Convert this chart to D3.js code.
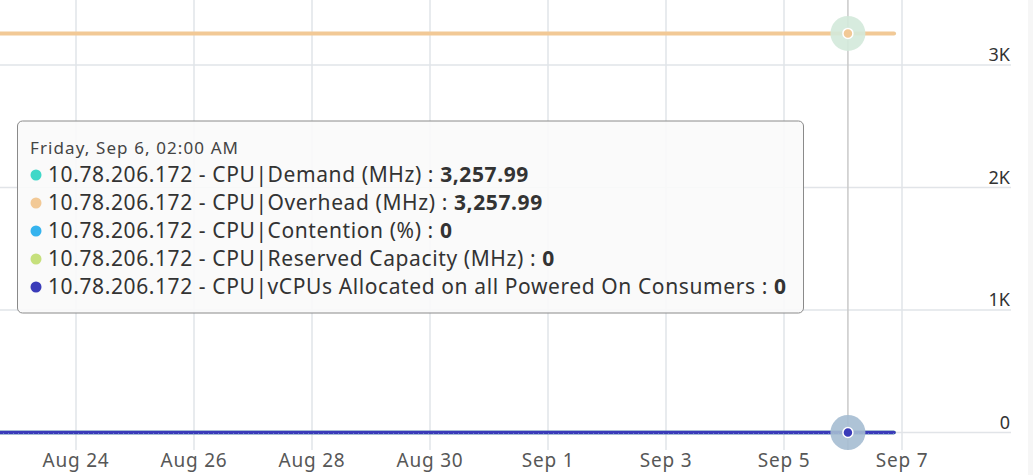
<!DOCTYPE html>
<html>
<head>
<meta charset="utf-8">
<script src="https://cdn.jsdelivr.net/npm/d3@7"></script>
<style>
  body { margin: 0; background: #fff; }
  svg { display: block; font-family: "Noto Sans", sans-serif; }
</style>
</head>
<body>
<div id="chart"></div>
<script>
// sample times (hourly data collapsed to the points that matter, the values are flat)
const times = [
  "2024-08-22T00:00", "2024-08-23T00:00", "2024-08-24T00:00", "2024-08-25T00:00",
  "2024-08-26T00:00", "2024-08-27T00:00", "2024-08-28T00:00", "2024-08-29T00:00",
  "2024-08-30T00:00", "2024-08-31T00:00", "2024-09-01T00:00", "2024-09-02T00:00",
  "2024-09-03T00:00", "2024-09-04T00:00", "2024-09-05T00:00", "2024-09-06T02:00",
  "2024-09-06T20:45"
];
const demand      = [3257.99, 3257.99, 3257.99, 3257.99, 3257.99, 3257.99, 3257.99, 3257.99, 3257.99, 3257.99, 3257.99, 3257.99, 3257.99, 3257.99, 3257.99, 3257.99, 3257.99];
const overhead    = [3257.99, 3257.99, 3257.99, 3257.99, 3257.99, 3257.99, 3257.99, 3257.99, 3257.99, 3257.99, 3257.99, 3257.99, 3257.99, 3257.99, 3257.99, 3257.99, 3257.99];
const contention  = [0, 0, 0, 0, 0, 0, 0, 0, 0, 0, 0, 0, 0, 0, 0, 0, 0];
const reserved    = [0, 0, 0, 0, 0, 0, 0, 0, 0, 0, 0, 0, 0, 0, 0, 0, 0];
const vcpus       = [0, 0, 0, 0, 0, 0, 0, 0, 0, 0, 0, 0, 0, 0, 0, 0, 0];

const seriesNames = [
  "10.78.206.172 - CPU|Demand (MHz)",
  "10.78.206.172 - CPU|Overhead (MHz)",
  "10.78.206.172 - CPU|Contention (%)",
  "10.78.206.172 - CPU|Reserved Capacity (MHz)",
  "10.78.206.172 - CPU|vCPUs Allocated on all Powered On Consumers"
];
const seriesColors = ["#3fd8c8", "#f2c996", "#35b3ee", "#c6e07c", "#3a3bb9"];
const xTicks = ["2024-08-24", "2024-08-26", "2024-08-28", "2024-08-30", "2024-09-01", "2024-09-03", "2024-09-05", "2024-09-07"];
const xTickLabels = ["Aug 24", "Aug 26", "Aug 28", "Aug 30", "Sep 1", "Sep 3", "Sep 5", "Sep 7"];
const yTicks = [0, 1000, 2000, 3000];
const hoverTime = "2024-09-06T02:00";
const hoverTitle = "Friday, Sep 6, 02:00 AM";
const hoverValues = ["3,257.99", "3,257.99", "0", "0", "0"];

const width = 1033, height = 475;
const parse = d3.isoParse;

const svg = d3.select("#chart").append("svg")
  .attr("width", width)
  .attr("height", height);

const x = d3.scaleTime()
  .domain([parse("2024-08-24T00:00"), parse("2024-09-07T00:00")])
  .range([76, 902]);

const y = d3.scaleLinear()
  .domain([0, 3000])
  .range([432.5, 65]);

// right edge strip
svg.append("rect")
  .attr("x", 1028).attr("y", 0).attr("width", 5).attr("height", height)
  .attr("fill", "#f6f6f6");

// vertical grid + x labels
const xAxis = svg.append("g");
xAxis.selectAll("line")
  .data(xTicks)
  .enter().append("line")
  .attr("x1", d => x(parse(d))).attr("x2", d => x(parse(d)))
  .attr("y1", 0).attr("y2", 450)
  .attr("stroke", "#e1e4e8")
  .attr("stroke-width", 1.5);
xAxis.selectAll("text")
  .data(xTicks)
  .enter().append("text")
  .attr("x", d => x(parse(d)))
  .attr("y", 467)
  .attr("text-anchor", "middle")
  .attr("font-size", 19)
  .attr("letter-spacing", 0.8)
  .attr("fill", "#575757")
  .text((d, i) => xTickLabels[i]);

// horizontal grid + y labels
const yAxis = svg.append("g");
yAxis.selectAll("line")
  .data(yTicks)
  .enter().append("line")
  .attr("x1", 0).attr("x2", 1011)
  .attr("y1", d => y(d)).attr("y2", d => y(d))
  .attr("stroke", "#e1e4e8")
  .attr("stroke-width", 1.5);
yAxis.selectAll("text")
  .data(yTicks)
  .enter().append("text")
  .attr("x", 1010)
  .attr("y", d => y(d) - 4)
  .attr("text-anchor", "end")
  .attr("font-size", 18)
  .attr("fill", "#333")
  .text(d => d === 0 ? "0" : d3.format("~s")(d).replace("k", "K"));

// hover line
const hx = x(parse(hoverTime));
svg.append("line")
  .attr("x1", hx).attr("x2", hx)
  .attr("y1", 0).attr("y2", 450)
  .attr("stroke", "#c9c9c9")
  .attr("stroke-width", 1.5);

// lines
const allSeries = [demand, overhead, contention, reserved, vcpus];
const widths = [3, 4, 3.5, 3.5, 3.5];
const line = d3.line()
  .x((d, i) => x(parse(times[i])))
  .y(d => y(d));

allSeries.forEach(function(s, i) {
  svg.append("path")
    .datum(s)
    .attr("d", line)
    .attr("fill", "none")
    .attr("stroke", seriesColors[i])
    .attr("stroke-width", widths[i])
    .attr("stroke-linecap", "round");
});
// the zero lines overlap: light notches show through the top one
svg.append("path")
  .datum(vcpus)
  .attr("d", line)
  .attr("fill", "none")
  .attr("stroke", "#7f8fd6")
  .attr("stroke-width", 1)
  .attr("stroke-dasharray", "1,4")
  .attr("transform", "translate(0,1.2)");

// hover markers
const markers = [
  { v: overhead[15], halo: "#d3e9da", color: seriesColors[1] },
  { v: vcpus[15], halo: "#a5bdd1", color: seriesColors[4] }
];
markers.forEach(function(m) {
  svg.append("circle")
    .attr("cx", hx).attr("cy", y(m.v))
    .attr("r", 17.5)
    .attr("fill", m.halo)
    .attr("opacity", 0.9);
  svg.append("circle")
    .attr("cx", hx).attr("cy", y(m.v))
    .attr("r", 5)
    .attr("fill", m.color)
    .attr("stroke", "#fff")
    .attr("stroke-width", 1.5);
});

// tooltip
const tip = svg.append("g");
tip.append("rect")
  .attr("x", 17.5).attr("y", 121)
  .attr("width", 786).attr("height", 192)
  .attr("rx", 5)
  .attr("fill", "rgba(250,250,250,0.9)")
  .attr("stroke", "#8a8a8a")
  .attr("stroke-width", 1);
tip.append("text")
  .attr("x", 30).attr("y", 154)
  .attr("font-size", 17)
  .attr("letter-spacing", 1.1)
  .attr("fill", "#444")
  .text(hoverTitle);
seriesNames.forEach(function(name, i) {
  const cy = 175 + i * 28;
  tip.append("circle")
    .attr("cx", 36).attr("cy", cy)
    .attr("r", 5.5)
    .attr("fill", seriesColors[i]);
  const t = tip.append("text")
    .attr("x", 48).attr("y", cy + 7)
    .attr("font-size", 21)
    .attr("letter-spacing", 0.6)
    .attr("fill", "#333");
  t.append("tspan").text(name + " : ");
  t.append("tspan").attr("font-weight", "bold").text(hoverValues[i]);
});
</script>
</body>
</html>
